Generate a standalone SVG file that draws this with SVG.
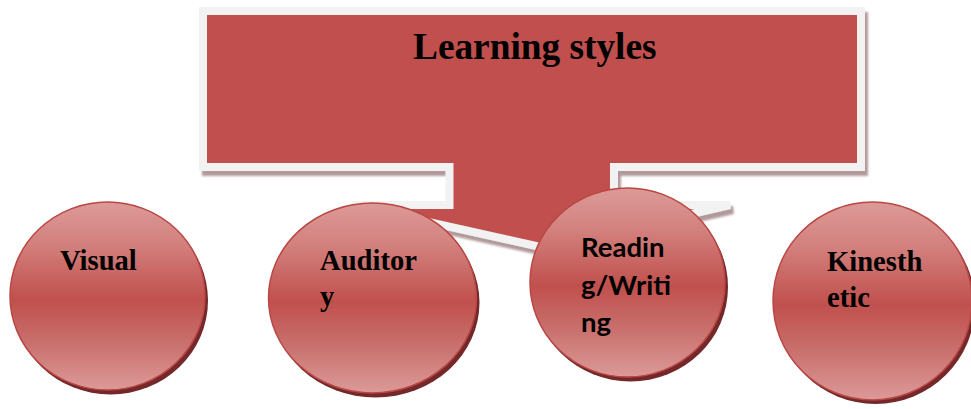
<svg xmlns="http://www.w3.org/2000/svg" width="971" height="409" viewBox="0 0 971 409">
  <defs>
    <linearGradient id="ballFill" x1="0" y1="0" x2="0" y2="1">
      <stop offset="0" stop-color="#dc9a98"/>
      <stop offset="0.22" stop-color="#d3817e"/>
      <stop offset="0.52" stop-color="#c0504d"/>
      <stop offset="0.75" stop-color="#c9706d"/>
      <stop offset="1" stop-color="#dc9a98"/>
    </linearGradient>
    <filter id="calloutShadow" x="-5%" y="-5%" width="115%" height="120%">
      <feGaussianBlur in="SourceAlpha" stdDeviation="1.2" result="b"/>
      <feOffset in="b" dx="3" dy="5" result="o"/>
      <feFlood flood-color="#7f5557" flood-opacity="0.6"/>
      <feComposite in2="o" operator="in" result="s"/>
      <feMerge>
        <feMergeNode in="s"/>
        <feMergeNode in="SourceGraphic"/>
      </feMerge>
    </filter>
  </defs>
  <style>
    .callout { fill: #c0504d; stroke: #f2f2f2; stroke-width: 8; stroke-linejoin: miter; }
    .ball { fill: url(#ballFill); stroke: #b94744; stroke-width: 1.5; }
    .ballShadow { fill: #74282a; }
    .serif { font-family: "Liberation Serif", "Times New Roman", serif; font-weight: bold; fill: #000; }
    .sans { font-family: Lato, "Liberation Sans", sans-serif; font-weight: bold; fill: #000; }
  </style>

  <rect width="971" height="409" fill="#ffffff"/>

  <!-- title callout with downward pointer -->
  <g id="learning-styles">
    <path class="callout" filter="url(#calloutShadow)"
          d="M203,11 H861 V167 H614 V205 H730 L545,248 L352,205 H449.5 V167 H203 Z"/>
    <text class="serif" x="413" y="59" font-size="37.3">Learning styles</text>
  </g>

  <g id="connectors"></g>

  <g id="visual">
    <ellipse class="ballShadow" cx="110.5" cy="300.5" rx="97.5" ry="94"/>
    <ellipse class="ball" cx="107.5" cy="296" rx="97.5" ry="94"/>
    <text class="serif" x="60" y="270" font-size="28.6">Visual</text>
  </g>

  <g id="auditory">
    <ellipse class="ballShadow" cx="375.5" cy="302.5" rx="104" ry="95"/>
    <ellipse class="ball" cx="372.5" cy="298" rx="104" ry="95"/>
    <text class="serif" font-size="28.6">
      <tspan x="320" y="270">Auditor</tspan>
      <tspan x="320" y="306">y</tspan>
    </text>
  </g>

  <g id="reading-writing">
    <ellipse class="ballShadow" cx="630.5" cy="287" rx="97.5" ry="94.5"/>
    <ellipse class="ball" cx="627.5" cy="282.5" rx="97.5" ry="94.5"/>
    <text class="sans" font-size="27.5">
      <tspan x="581" y="257">Readin</tspan>
      <tspan x="581" y="295">g/Writi</tspan>
      <tspan x="581" y="332">ng</tspan>
    </text>
  </g>

  <g id="kinesthetic">
    <ellipse class="ballShadow" cx="875.5" cy="305" rx="99.5" ry="99"/>
    <ellipse class="ball" cx="872.5" cy="301" rx="99.5" ry="99"/>
    <text class="serif" font-size="28.6">
      <tspan x="827" y="271">Kinesth</tspan>
      <tspan x="827" y="307">etic</tspan>
    </text>
  </g>
</svg>
